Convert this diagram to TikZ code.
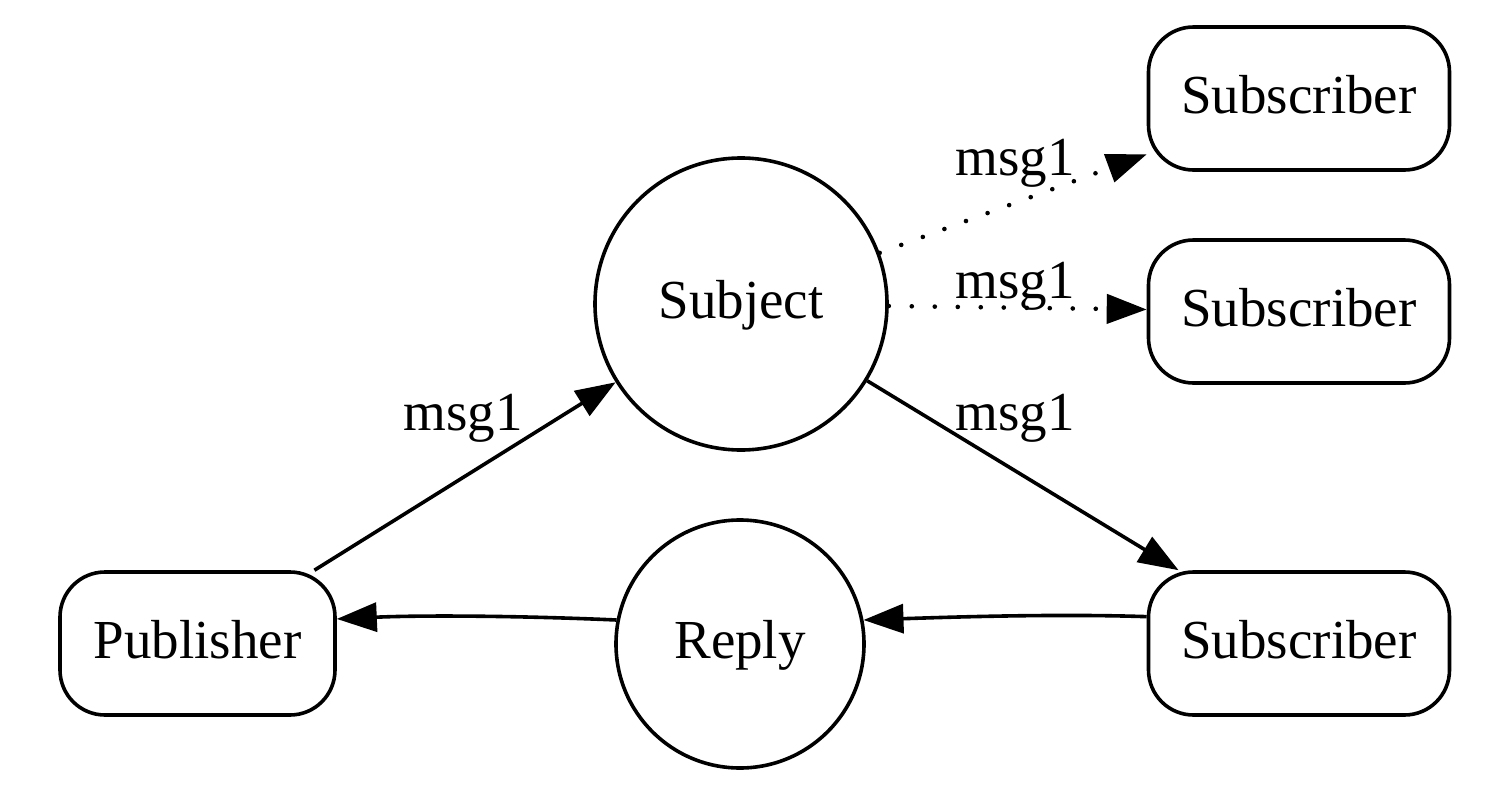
\documentclass[tikz,border=0pt]{standalone}
\usepackage{fontspec}
\setmainfont{Liberation Serif}
\usetikzlibrary{arrows.meta}
\begin{document}
\begin{tikzpicture}[x=1pt,y=-1pt,
  every node/.style={font=\fontsize{55}{60}\selectfont, text height=41pt, text depth=12pt, inner sep=0pt},
  boxnode/.style={draw, line width=3.6pt, rounded corners=45pt, minimum height=143pt},
  circnode/.style={draw, circle, line width=3.6pt},
  edge/.style={line width=3.6pt, -{Triangle[length=40pt,width=29pt]}},
  dotedge/.style={edge, line width=4.6pt, line cap=round, dash pattern=on 0pt off 23pt},
  lbl/.style={anchor=base, text height=, text depth=}
]
\useasboundingbox (0,0) rectangle (1508,798);

\node[boxnode, minimum width=275pt] (pub) at (197.5,643.5) {Publisher};
\node[circnode, minimum size=292pt] (subj) at (741,304) {Subject};
\node[circnode, minimum size=248pt] (reply) at (740,644) {Reply};
\node[boxnode, minimum width=301pt] (sub1) at (1299,98.5) {Subscriber};
\node[boxnode, minimum width=301pt] (sub2) at (1299,311.5) {Subscriber};
\node[boxnode, minimum width=301pt] (sub3) at (1299,643.5) {Subscriber};

\draw[edge] (pub) -- (subj);
\draw[edge] (subj) -- (sub3);
\draw[dotedge] (subj) -- (sub1);
\draw[dotedge] (subj) -- (sub2);
\draw[edge] (sub3.170) .. controls +(-90,-3) and +(90,-3) .. (reply.11);
\draw[edge] (reply.169) .. controls +(-90,-4) and +(90,-4) .. (pub.10);

\node[lbl] (l1) at (463,430) {msg1};
\node[lbl] (l2) at (1015,430) {msg1};
\node[lbl] (l3) at (1015,175) {msg1};
\node[lbl] (l4) at (1015,298) {msg1};
\end{tikzpicture}
\end{document}
